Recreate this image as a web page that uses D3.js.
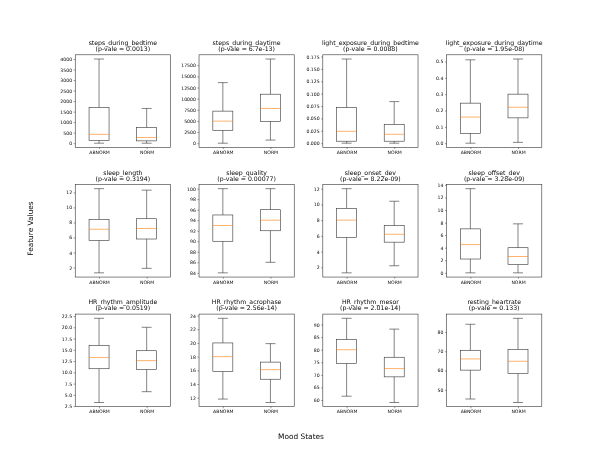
<!DOCTYPE html>
<html>
<head>
<meta charset="utf-8">
<script src="https://cdn.jsdelivr.net/npm/d3@7"></script>
<style>
  html, body { margin: 0; padding: 0; background: #fff; }
  svg { display: block; will-change: transform; -webkit-font-smoothing: antialiased; }
  text { font-family: "DejaVu Sans", sans-serif; fill: #000; opacity: 0.99; }
</style>
</head>
<body>
<div id="chart"></div>
<script>
// ---- data ----
const groups = ["ABNORM", "NORM"];
const features = [
  "steps_during_bedtime", "steps_during_daytime", "light_exposure_during_bedtime", "light_exposure_during_daytime",
  "sleep_length", "sleep_quality", "sleep_onset_dev", "sleep_offset_dev",
  "HR_rhythm_amplitude", "HR_rhythm_acrophase", "HR_rhythm_mesor", "resting_heartrate"
];
const pValues = ["0.0013", "6.7e-13", "0.0088", "1.95e-08",
                 "0.3194", "0.00077", "8.22e-09", "3.28e-09",
                 "0.0519", "2.56e-14", "2.01e-14", "0.133"];
// [lower whisker, q1, median, q3, upper whisker]
const abnormStats = [
  [0, 130, 420, 1700, 4000],
  [0, 2900, 4950, 7200, 13600],
  [0, 0.004, 0.024, 0.072, 0.170],
  [0.0, 0.06, 0.16, 0.245, 0.51],
  [1.3, 5.6, 7.1, 8.4, 12.5],
  [84, 90, 93, 95, 100],
  [1.3, 5.8, 8.0, 9.5, 12.0],
  [0, 2.2, 4.5, 7.0, 13.4],
  [3.3, 10.8, 13.3, 16.0, 22.0],
  [11.8, 15.8, 18.0, 20.0, 23.6],
  [61.5, 74.5, 80.0, 84.0, 92.5],
  [45.2, 60.2, 66.0, 70.5, 84.0]
];
const normStats = [
  [0, 110, 270, 750, 1650],
  [700, 4900, 7800, 11000, 18900],
  [0, 0.004, 0.018, 0.038, 0.084],
  [0.005, 0.155, 0.22, 0.30, 0.515],
  [1.9, 5.8, 7.2, 8.5, 12.3],
  [86, 92, 94, 96, 100],
  [2.2, 5.2, 6.2, 7.3, 10.4],
  [0, 1.3, 2.6, 4.0, 7.8],
  [5.7, 10.6, 12.6, 14.8, 20.0],
  [11.3, 14.7, 16.1, 17.2, 19.9],
  [59.0, 69.2, 72.5, 77.0, 88.2],
  [43.4, 58.4, 64.8, 71.0, 87.1]
];
const yTicks = [
  [0, 500, 1000, 1500, 2000, 2500, 3000, 3500, 4000],
  [0, 2500, 5000, 7500, 10000, 12500, 15000, 17500],
  [0.000, 0.025, 0.050, 0.075, 0.100, 0.125, 0.150, 0.175],
  [0.0, 0.1, 0.2, 0.3, 0.4, 0.5],
  [2, 4, 6, 8, 10, 12],
  [84, 86, 88, 90, 92, 94, 96, 98, 100],
  [2, 4, 6, 8, 10, 12],
  [0, 2, 4, 6, 8, 10, 12, 14],
  [2.5, 5.0, 7.5, 10.0, 12.5, 15.0, 17.5, 20.0, 22.5],
  [12, 14, 16, 18, 20, 22, 24],
  [60, 65, 70, 75, 80, 85, 90],
  [50, 60, 70, 80]
];
const yTickFormats = [".0f", ".0f", ".3f", ".1f", ".0f", ".0f", ".0f", ".0f", ".1f", ".0f", ".0f", ".0f"];
const xLabel = "Mood States";
const yLabel = "Feature Values";

// ---- layout ----
const W = 602, H = 457;
const padLeft = 75.25, padRight = 541.8, padTop = 54.8, padBottom = 406.7;
const nCols = 4, nRows = 3, wspace = 0.3, hspace = 0.4;
const aw = (padRight - padLeft) / (nCols + wspace * (nCols - 1));
const ah = (padBottom - padTop) / (nRows + hspace * (nRows - 1));

const svg = d3.select("#chart").append("svg").attr("width", W).attr("height", H);

const lineColor = "#333";
const tickFont = 4.6;
const titleFont = 6.2;

features.forEach((feat, i) => {
  const r = Math.floor(i / nCols), c = i % nCols;
  const x0 = padLeft + c * aw * (1 + wspace);
  const y0 = padTop + r * ah * (1 + hspace);
  const g = svg.append("g").attr("transform", `translate(${x0},${y0})`);

  const stats = [abnormStats[i], normStats[i]];
  const lo = d3.min(stats, s => s[0]), hi = d3.max(stats, s => s[4]);
  const pad = (hi - lo) * 0.05;
  const y = d3.scaleLinear().domain([lo - pad, hi + pad]).range([ah, 0]);
  const x = d3.scaleLinear().domain([0.5, 2.5]).range([0, aw]);
  const xBand = d3.scalePoint().domain(groups).range([x(1), x(2)]);

  // y axis
  const yAxis = d3.axisLeft(y).tickValues(yTicks[i]).tickSize(1.6).tickPadding(1.6)
    .tickFormat(d3.format(yTickFormats[i]));
  const ya = g.append("g").call(yAxis);
  ya.select(".domain").remove();
  ya.selectAll("line").attr("stroke", lineColor).attr("stroke-width", 0.5);
  ya.selectAll("text").attr("font-size", tickFont).attr("font-family", "DejaVu Sans, sans-serif").attr("fill", "#222");

  // x axis
  const xAxis = d3.axisBottom(xBand).tickSize(1.6).tickPadding(1.6);
  const xa = g.append("g").attr("transform", `translate(0,${ah})`).call(xAxis);
  xa.select(".domain").remove();
  xa.selectAll("line").attr("stroke", lineColor).attr("stroke-width", 0.5);
  xa.selectAll("text").attr("font-size", tickFont).attr("font-family", "DejaVu Sans, sans-serif").attr("fill", "#222");

  // boxes
  const bw = x(1.21) - x(1);
  const cw = bw / 2;
  groups.forEach((grp, k) => {
    const s = stats[k];
    const cx = xBand(grp);
    const bg = g.append("g");
    // whiskers
    bg.append("line").attr("x1", cx).attr("x2", cx).attr("y1", y(s[0])).attr("y2", y(s[1]))
      .attr("stroke", lineColor).attr("stroke-width", 0.6);
    bg.append("line").attr("x1", cx).attr("x2", cx).attr("y1", y(s[3])).attr("y2", y(s[4]))
      .attr("stroke", lineColor).attr("stroke-width", 0.6);
    // caps
    [s[0], s[4]].forEach(v => {
      bg.append("line").attr("x1", cx - cw).attr("x2", cx + cw).attr("y1", y(v)).attr("y2", y(v))
        .attr("stroke", lineColor).attr("stroke-width", 0.6);
    });
    // box
    bg.append("rect").attr("x", cx - bw).attr("width", 2 * bw)
      .attr("y", y(s[3])).attr("height", y(s[1]) - y(s[3]))
      .attr("fill", "none").attr("stroke", lineColor).attr("stroke-width", 0.6);
    // median
    bg.append("line").attr("x1", cx - bw).attr("x2", cx + bw).attr("y1", y(s[2])).attr("y2", y(s[2]))
      .attr("stroke", "#ff7f0e").attr("stroke-width", 0.6);
  });

  // frame
  g.append("rect").attr("width", aw).attr("height", ah).attr("fill", "none")
    .attr("stroke", lineColor).attr("stroke-width", 0.6);

  // title
  const t = g.append("text").attr("text-anchor", "middle").attr("font-size", titleFont)
    .attr("x", aw / 2).attr("fill", "#111");
  t.append("tspan").attr("x", aw / 2).attr("y", -9.8).text(feat);
  t.append("tspan").attr("x", aw / 2).attr("y", -3.7).text(`(p-vale = ${pValues[i]})`);
});

// figure labels
svg.append("text").attr("text-anchor", "middle").attr("font-size", 7.4)
  .attr("x", W / 2).attr("y", 438.5).text(xLabel);
svg.append("text").attr("text-anchor", "middle").attr("font-size", 7.4)
  .attr("transform", `translate(32.5,${H / 2}) rotate(-90)`).text(yLabel);
</script>
</body>
</html>
